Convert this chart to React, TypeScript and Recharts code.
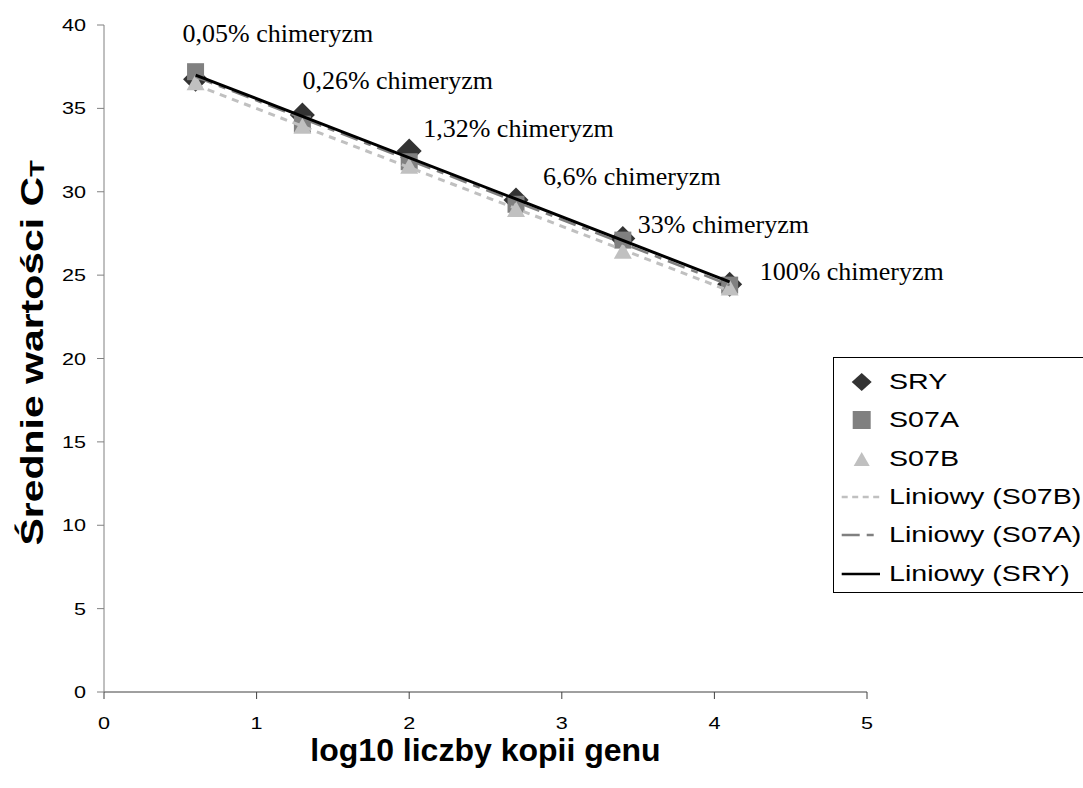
import React from "react";
import { ScatterChart, Scatter, XAxis, YAxis, Legend, Label } from "recharts";

// log10 of gene copy number and mean Ct values
const log10Copies = [0.6, 1.3, 2.0, 2.7, 3.4, 4.1];
const sryCt = [36.75, 34.6, 32.45, 29.5, 27.2, 24.45];
const s07aCt = [37.2, 34.05, 31.8, 29.25, 27.1, 24.4];
const s07bCt = [36.5, 33.9, 31.5, 28.9, 26.4, 24.2];

// linear trendlines (Excel "Liniowy"), ends
const trendX = [0.6, 4.1];
const sryTrendCt = [37.0, 24.6];
const s07aTrendCt = [36.9, 24.4];
const s07bTrendCt = [36.4, 24.05];

const chimerism = [
  "0,05% chimeryzm",
  "0,26% chimeryzm",
  "1,32% chimeryzm",
  "6,6% chimeryzm",
  "33% chimeryzm",
  "100% chimeryzm",
];

const xTicks = [0, 1, 2, 3, 4, 5];
const yTicks = [0, 5, 10, 15, 20, 25, 30, 35, 40];

const legendNames = ["SRY", "S07A", "S07B", "Liniowy (S07B)", "Liniowy (S07A)", "Liniowy (SRY)"];

// where each chimerism label sits relative to its SRY point
const labelOffsets = [
  [-13, -37],
  [0, -26],
  [14, -14],
  [27, -15],
  [15, -5],
  [30, -4],
];

const toPoints = (xs: number[], ys: number[]) => xs.map((x, i) => ({ x, y: ys[i], i }));

const SANS = "'Liberation Sans', Arial, sans-serif";
const SERIF = "'Liberation Serif', 'Times New Roman', serif";

const Diamond = (p: any) => (
  <path
    d={`M${p.cx},${p.cy - 12.5}L${p.cx + 12.5},${p.cy}L${p.cx},${p.cy + 12.5}L${p.cx - 12.5},${p.cy}Z`}
    fill="#333333"
  />
);
const Square = (p: any) => <rect x={p.cx - 8.5} y={p.cy - 8.5} width={17} height={17} fill="#808080" />;
const Triangle = (p: any) => (
  <path d={`M${p.cx},${p.cy - 9}L${p.cx + 9},${p.cy + 7}L${p.cx - 9},${p.cy + 7}Z`} fill="#c0c0c0" />
);
const NoDot = () => <g />;

const ChimerismLabel = (p: any) => {
  const off = labelOffsets[p.payload.i];
  return (
    <text x={p.cx + off[0]} y={p.cy + off[1]} fontFamily={SERIF} fontSize={26} fill="#000">
      {chimerism[p.payload.i]}
    </text>
  );
};

const XTick = (p: any) => (
  <g transform={`translate(${p.x},${p.y})`}>
    <text transform="scale(1.27,1)" textAnchor="middle" y={28} fontFamily={SANS} fontSize={17} fill="#000">
      {p.payload.value}
    </text>
  </g>
);

const YTick = (p: any) => (
  <g transform={`translate(${p.x},${p.y})`}>
    <text transform="scale(1.27,1)" textAnchor="end" dy="0.36em" fontFamily={SANS} fontSize={17} fill="#000">
      {p.payload.value}
    </text>
  </g>
);

const XTitle = (p: any) => {
  const vb = p.viewBox;
  return (
    <text x={vb.x + vb.width / 2} y={vb.y + 69} textAnchor="middle" fontFamily={SANS} fontWeight="bold" fontSize={32} fill="#000">
      log10 liczby kopii genu
    </text>
  );
};

const YTitle = () => (
  <g transform="translate(43,353) rotate(-90)">
    <text transform="scale(1.28,1)" textAnchor="middle" fontFamily={SANS} fontWeight="bold" fontSize={32} fill="#000">
      Średnie wartości C
      <tspan fontSize={21} dy={1}>
        T
      </tspan>
    </text>
  </g>
);

const LegendSample = ({ index }: { index: number }) => {
  const c = 27.7;
  return (
    <svg width={55} height={38} style={{ display: "block", flex: "none" }}>
      {index === 0 && <path d={`M${c},10L${c + 10},19L${c},28L${c - 10},19Z`} fill="#333333" />}
      {index === 1 && <rect x={c - 9} y={10} width={18} height={18} fill="#808080" />}
      {index === 2 && <path d={`M${c},12L${c + 8},26L${c - 8},26Z`} fill="#c0c0c0" />}
      {index === 3 && <line x1={7.7} x2={46} y1={19} y2={19} stroke="#c0c0c0" strokeWidth={2.5} strokeDasharray="6 4.5" />}
      {index === 4 && <line x1={7.7} x2={46} y1={19} y2={19} stroke="#808080" strokeWidth={2.5} strokeDasharray="18 7 7 7" />}
      {index === 5 && <line x1={7.7} x2={46} y1={19} y2={19} stroke="#000000" strokeWidth={2.5} />}
    </svg>
  );
};

const renderLegend = () => (
  <div
    style={{
      border: "1px solid #000",
      background: "#fff",
      paddingTop: 5,
      height: 229,
      boxSizing: "content-box",
    }}
  >
    {legendNames.map((name, i) => (
      <div key={name} style={{ display: "flex", alignItems: "center", height: 38.3 }}>
        <LegendSample index={i} />
        <span
          style={{
            display: "inline-block",
            fontFamily: SANS,
            fontSize: 22,
            color: "#000",
            whiteSpace: "nowrap",
            transform: "scaleX(1.3)",
            transformOrigin: "left center",
          }}
        >
          {name}
        </span>
      </div>
    ))}
  </div>
);

export default function App() {
  return (
    <div style={{ position: "absolute", left: 0, top: 0, width: 1083, height: 788, overflow: "hidden", background: "#fff" }}>
      <ScatterChart width={1083} height={788} margin={{ top: 25, right: 216, bottom: 0, left: 44 }}>
        <XAxis
          type="number"
          dataKey="x"
          domain={[0, 5]}
          ticks={xTicks}
          interval={0}
          height={96}
          tickSize={7}
          tickMargin={2}
          stroke="#404040"
          tick={<XTick />}
        >
          <Label content={<XTitle />} />
        </XAxis>
        <YAxis
          type="number"
          dataKey="y"
          domain={[0, 40]}
          ticks={yTicks}
          interval={0}
          width={60}
          tickSize={7}
          tickMargin={11}
          stroke="#808080"
          tick={<YTick />}
        >
          <Label content={<YTitle />} />
        </YAxis>
        <Legend
          layout="vertical"
          align="center"
          verticalAlign="middle"
          wrapperStyle={{ left: 833, top: 357, width: 262 }}
          content={renderLegend}
        />
        <Scatter name="SRY" data={toPoints(log10Copies, sryCt)} shape={<Diamond />} isAnimationActive={false} />
        <Scatter name="S07A" data={toPoints(log10Copies, s07aCt)} shape={<Square />} isAnimationActive={false} />
        <Scatter name="S07B" data={toPoints(log10Copies, s07bCt)} shape={<Triangle />} isAnimationActive={false} />
        <Scatter
          name="Liniowy (S07B)"
          data={toPoints(trendX, s07bTrendCt)}
          shape={<NoDot />}
          line={{ stroke: "#c0c0c0", strokeWidth: 3, strokeDasharray: "7 6" }}
          lineType="joint"
          isAnimationActive={false}
        />
        <Scatter
          name="Liniowy (S07A)"
          data={toPoints(trendX, s07aTrendCt)}
          shape={<NoDot />}
          line={{ stroke: "#808080", strokeWidth: 2.5, strokeDasharray: "18 7 7 7" }}
          lineType="joint"
          isAnimationActive={false}
        />
        <Scatter
          name="Liniowy (SRY)"
          data={toPoints(trendX, sryTrendCt)}
          shape={<NoDot />}
          line={{ stroke: "#000000", strokeWidth: 3 }}
          lineType="joint"
          isAnimationActive={false}
        />
        <Scatter
          name="labels"
          data={toPoints(log10Copies, sryCt)}
          shape={<ChimerismLabel />}
          legendType="none"
          isAnimationActive={false}
        />
      </ScatterChart>
    </div>
  );
}
